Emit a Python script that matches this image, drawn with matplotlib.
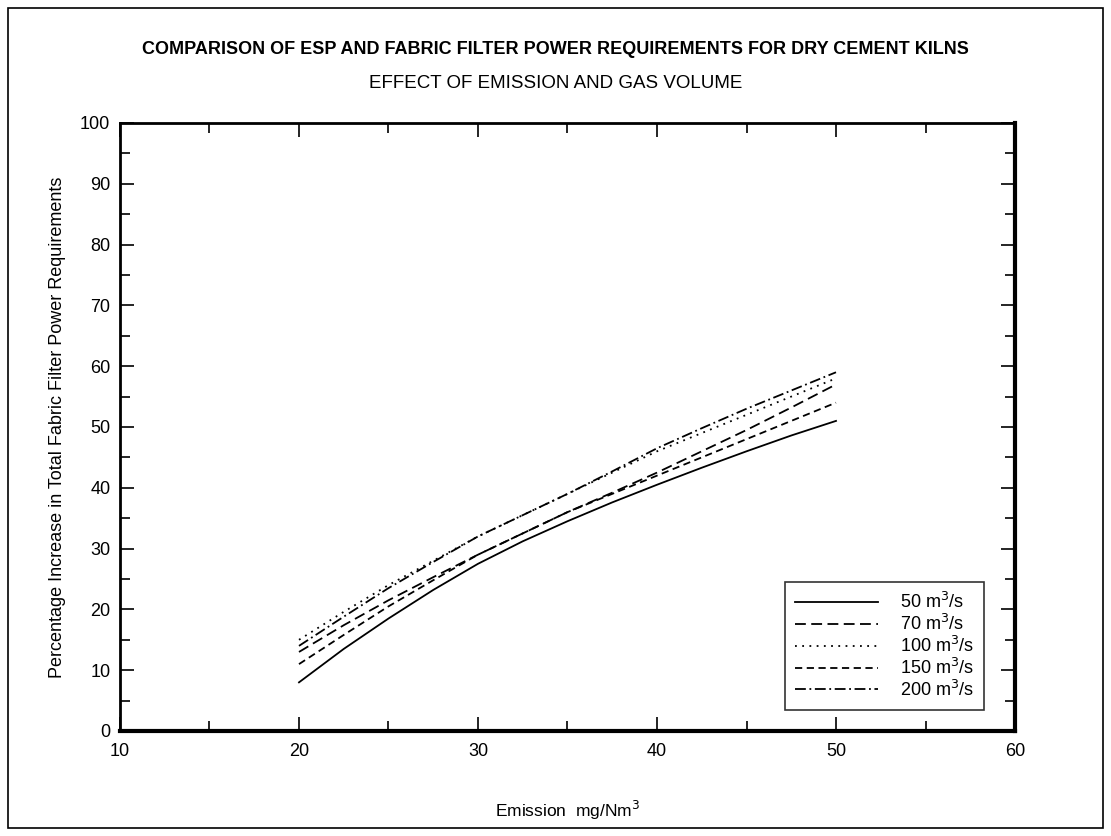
import matplotlib
matplotlib.use("Agg")
import matplotlib.pyplot as plt
from matplotlib.patches import Rectangle
from matplotlib.ticker import MultipleLocator

plt.rcParams['font.family'] = ['Liberation Sans', 'DejaVu Sans']

emission = [20, 22.5, 25, 27.5, 30, 32.5, 35, 37.5, 40, 42.5, 45, 47.5, 50]
series_labels = ['50 m$^3$/s', '70 m$^3$/s', '100 m$^3$/s', '150 m$^3$/s', '200 m$^3$/s']
v50 = [8, 13.5, 18.5, 23.2, 27.5, 31.2, 34.5, 37.6, 40.5, 43.3, 46, 48.6, 51]
v70 = [13, 17.4, 21.5, 25.3, 29, 32.5, 36, 39.2, 42.5, 46, 49.5, 53.2, 57]
v100 = [15, 19.6, 24, 28, 32, 35.5, 39, 42.5, 46, 49, 52, 55, 58]
v150 = [11, 15.8, 20.5, 24.8, 29, 32.5, 36, 39, 42, 45, 48, 51, 54]
v200 = [14, 18.8, 23.5, 27.8, 32, 35.5, 39, 42.7, 46.5, 49.8, 53, 56, 59]

styles = ['-', (0, (6, 3)), (0, (1, 3)), (0, (4, 2.5)), (0, (6, 2, 1, 2))]

fig = plt.figure(figsize=(11.11, 8.36), dpi=100)
ax = fig.add_axes([0.108, 0.1256, 0.8056, 0.7273])

for vals, lab, ls in zip([v50, v70, v100, v150, v200], series_labels, styles):
    ax.plot(emission, vals, color='black', linestyle=ls, linewidth=1.3, label=lab)

ax.set_xlim(10, 60)
ax.set_ylim(0, 100)
ax.xaxis.set_major_locator(MultipleLocator(10))
ax.xaxis.set_minor_locator(MultipleLocator(5))
ax.yaxis.set_major_locator(MultipleLocator(10))
ax.yaxis.set_minor_locator(MultipleLocator(5))
ax.tick_params(which='both', direction='in', top=True, right=True, labelsize=13, width=1.2)
ax.tick_params(which='major', length=10)
ax.tick_params(which='minor', length=7)
ax.tick_params(axis='x', pad=9)
ax.tick_params(axis='y', pad=7)
for s in ['left', 'top']:
    ax.spines[s].set_linewidth(2)
for s in ['bottom', 'right']:
    ax.spines[s].set_linewidth(3)

ax.set_xlabel('Emission  mg/Nm$^3$', fontsize=12.5, labelpad=28)
ax.set_ylabel('Percentage Increase in Total Fabric Filter Power Requirements', fontsize=13, labelpad=10)

leg = ax.legend(loc='lower right', bbox_to_anchor=(0.965, 0.035), fontsize=13, frameon=True,
                fancybox=False, edgecolor='black', handlelength=4.6, handletextpad=1.2,
                borderpad=0.55, labelspacing=0.1, borderaxespad=0)
leg.get_frame().set_linewidth(1.2)

fig.text(0.5, 1 - 50 / 836, 'COMPARISON OF ESP AND FABRIC FILTER POWER REQUIREMENTS FOR DRY CEMENT KILNS',
         ha='center', va='center', fontsize=13, fontweight='bold')
fig.text(0.5, 1 - 84 / 836, 'EFFECT OF EMISSION AND GAS VOLUME', ha='center', va='center', fontsize=13.5)

fig.patches.append(Rectangle((8 / 1111, 8 / 836), 1 - 16 / 1111, 1 - 16 / 836, transform=fig.transFigure,
                             fill=False, edgecolor='black', linewidth=1.2))

fig.savefig('out.png', dpi=100)
